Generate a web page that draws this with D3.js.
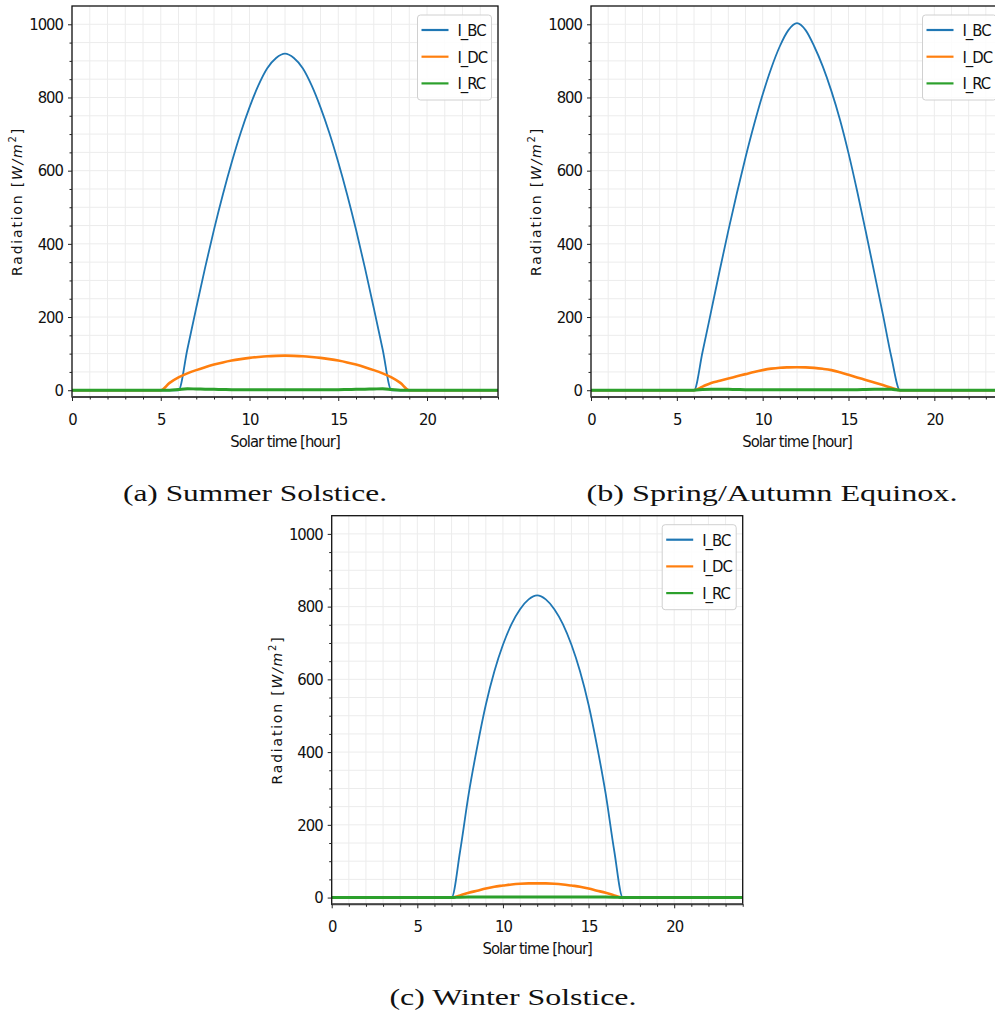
<!DOCTYPE html>
<html>
<head>
<meta charset="utf-8">
<script src="https://cdn.jsdelivr.net/npm/d3@7"></script>
<style>
  body { margin: 0; background: #fff; }
</style>
</head>
<body>
<svg id="fig" width="995" height="1015"></svg>
<script>
// sample hours shared by every series
const hours = [0, 2, 4, 4.5, 5, 5.5, 6, 6.5, 7, 7.5, 8, 8.5, 9, 9.5, 10, 10.5, 11, 11.5, 12,
  12.5, 13, 13.5, 14, 14.5, 15, 15.5, 16, 16.5, 17, 17.5, 18, 18.5, 19, 19.5, 20, 22, 24];

// (a) summer solstice
const summerBC = [0, 0, 0, 0, 0, 0, 0, 112, 225, 335, 439, 535, 623, 703, 773, 833, 880, 908, 920,
  908, 880, 833, 773, 703, 623, 535, 439, 335, 225, 112, 0, 0, 0, 0, 0, 0, 0];
const summerDC = [0, 0, 0, 0, 0, 20, 35, 46, 55, 63, 70, 76, 81, 85, 88.5, 91, 93, 94, 94.5,
  94, 93, 91, 88.5, 85, 81, 76, 70, 63, 55, 46, 35, 20, 0, 0, 0, 0, 0];
const summerRC = [0, 0, 0, 0, 0, 0, 2, 4, 3.5, 3, 2.5, 2, 1.5, 1.5, 1.5, 1.5, 1.5, 1.5, 1.5,
  1.5, 1.5, 1.5, 1.5, 1.5, 1.5, 2, 2.5, 3, 3.5, 4, 2, 0, 0, 0, 0, 0, 0];

// (b) spring/autumn equinox
const equinoxBC = [0, 0, 0, 0, 0, 0, 0, 105, 216, 328, 436, 539, 636, 726, 808, 880, 940, 984, 1003,
  984, 940, 885, 818, 740, 648, 545, 435, 322, 208, 90, 0, 0, 0, 0, 0, 0, 0];
const equinoxDC = [0, 0, 0, 0, 0, 0, 0, 10, 20, 26, 32, 38, 44, 50, 55, 59, 61.5, 62.5, 63,
  62.5, 61, 58.5, 55, 49, 42, 35, 28, 21, 14, 7, 0, 0, 0, 0, 0, 0, 0];
const equinoxRC = [0, 0, 0, 0, 0, 0, 0, 2, 3, 3, 2.5, 2, 1.5, 1.5, 1.5, 1.5, 1.5, 1.5, 1.5,
  1.5, 1.5, 1.5, 1.5, 1.5, 1.5, 1.5, 2, 2.5, 3, 2.5, 0, 0, 0, 0, 0, 0, 0];

// (c) winter solstice
const winterBC = [0, 0, 0, 0, 0, 0, 0, 0, 0, 128, 285, 415, 530, 622, 695, 752, 793, 820, 831,
  820, 793, 752, 695, 622, 530, 415, 285, 128, 0, 0, 0, 0, 0, 0, 0, 0, 0];
const winterDC = [0, 0, 0, 0, 0, 0, 0, 0, 0, 6, 13, 19, 25, 30, 33, 36, 38, 39, 39,
  39, 38, 36, 33, 30, 25, 19, 13, 6, 0, 0, 0, 0, 0, 0, 0, 0, 0];
const winterRC = [0, 0, 0, 0, 0, 0, 0, 0, 0, 1, 1.5, 1.5, 1.5, 1.5, 1.5, 1.5, 1.5, 1.5, 1.5,
  1.5, 1.5, 1.5, 1.5, 1.5, 1.5, 1.5, 1.5, 1, 0, 0, 0, 0, 0, 0, 0, 0, 0];

const seriesNames = ["I_BC", "I_DC", "I_RC"];
const seriesColors = ["#1f77b4", "#ff7f0e", "#2ca02c"];
const seriesWidths = [1.8, 2.6, 3];
const xTicks = [0, 5, 10, 15, 20];
const yTicks = [0, 200, 400, 600, 800, 1000];
const captions = ["(a) Summer Solstice.", "(b) Spring/Autumn Equinox.", "(c) Winter Solstice."];

const narrowFont = "'Liberation Sans Narrow', 'DejaVu Sans Condensed', sans-serif";

const panels = [
  { left: 72, top: 6, width: 426, height: 391, series: [summerBC, summerDC, summerRC],
    caption: captions[0], capX: 255, capY: 501, capW: 264 },
  { left: 591, top: 6, width: 412, height: 391, series: [equinoxBC, equinoxDC, equinoxRC],
    caption: captions[1], capX: 772, capY: 501, capW: 371 },
  { left: 331.7, top: 515.7, width: 411, height: 388.6, series: [winterBC, winterDC, winterRC],
    caption: captions[2], capX: 513, capY: 1005, capW: 247 }
];

const svg = d3.select("#fig");

panels.forEach(function (p) {
  const g = svg.append("g").attr("transform", "translate(" + p.left + "," + p.top + ")");

  const x = d3.scaleLinear().domain([0, 24]).range([0, p.width]);
  const y = d3.scaleLinear().domain([-18.5, 1050]).range([p.height, 0]);

  const xMinor = d3.range(0, 25, 1);
  const yMinor = d3.range(0, 1050, 50);

  // grid, major and minor
  g.append("g").selectAll("line").data(xMinor).join("line")
    .attr("x1", d => x(d)).attr("x2", d => x(d))
    .attr("y1", 0).attr("y2", p.height)
    .attr("stroke", "#ececec").attr("stroke-width", 1);
  g.append("g").selectAll("line").data(yMinor).join("line")
    .attr("x1", 0).attr("x2", p.width)
    .attr("y1", d => y(d)).attr("y2", d => y(d))
    .attr("stroke", "#ececec").attr("stroke-width", 1);

  // series
  const line = d3.line()
    .x((d, i) => x(hours[i]))
    .y(d => y(d))
    .curve(d3.curveMonotoneX);

  p.series.forEach(function (vals, k) {
    g.append("path")
      .datum(vals)
      .attr("d", line)
      .attr("fill", "none")
      .attr("stroke", seriesColors[k])
      .attr("stroke-width", seriesWidths[k])
      .attr("stroke-linejoin", "round");
  });

  // spines
  g.append("rect")
    .attr("width", p.width).attr("height", p.height)
    .attr("fill", "none").attr("stroke", "#111").attr("stroke-width", 1.3);
  g.append("line")
    .attr("x1", 0).attr("x2", p.width).attr("y1", p.height).attr("y2", p.height)
    .attr("stroke", "#444").attr("stroke-width", 2);

  // axes
  g.append("g")
    .attr("transform", "translate(0," + p.height + ")")
    .call(d3.axisBottom(x).tickValues(xTicks).tickSize(4).tickPadding(12).tickFormat(d3.format("d")));
  g.append("g").attr("transform", "translate(0," + p.height + ")")
    .call(d3.axisBottom(x).tickValues(xMinor.filter(d => d % 5 !== 0)).tickSize(2.5).tickFormat(""));
  g.append("g")
    .call(d3.axisLeft(y).tickValues(yTicks).tickSize(4).tickPadding(5).tickFormat(d3.format("d")));
  g.append("g")
    .call(d3.axisLeft(y).tickValues(yMinor.filter(d => d % 200 !== 0)).tickSize(2.5).tickFormat(""));

  g.selectAll(".domain").remove();
  g.selectAll(".tick line").attr("stroke", "#222");
  g.selectAll(".tick text").attr("fill", "#111").attr("font-size", 16.5)
    .attr("font-family", narrowFont).attr("letter-spacing", -1);

  // axis labels
  g.append("text")
    .attr("x", p.width / 2).attr("y", p.height + 50)
    .attr("text-anchor", "middle").attr("font-size", 16.5).attr("fill", "#111")
    .attr("font-family", narrowFont).attr("letter-spacing", -1)
    .text("Solar time [hour]");

  const yl = g.append("text")
    .attr("transform", "translate(-50," + (p.height / 2) + ") rotate(-90)")
    .attr("text-anchor", "middle").attr("font-size", 14).attr("fill", "#111")
    .attr("font-family", "'DejaVu Sans', sans-serif")
    .attr("letter-spacing", 1.8);
  yl.append("tspan").text("Radiation [");
  yl.append("tspan").attr("font-style", "italic").text("W/m");
  yl.append("tspan").attr("font-size", 10).attr("dy", -6).text("2");
  yl.append("tspan").attr("dy", 6).text("]");

  // legend
  const lg = g.append("g")
    .attr("transform", "translate(" + (p.width - 80.5) + ",9)");
  lg.append("rect")
    .attr("width", 74).attr("height", 85).attr("rx", 3)
    .attr("fill", "#fff").attr("fill-opacity", 0.85)
    .attr("stroke", "#d0d0d0").attr("stroke-width", 1);
  seriesNames.forEach(function (name, k) {
    const yy = 15 + k * 26.7;
    lg.append("line")
      .attr("x1", 4).attr("x2", 31).attr("y1", yy).attr("y2", yy)
      .attr("stroke", seriesColors[k]).attr("stroke-width", 2.2);
    lg.append("text")
      .attr("x", 40).attr("y", yy + 6)
      .attr("font-size", 16.5).attr("fill", "#111")
      .attr("font-family", narrowFont).attr("letter-spacing", -1)
      .text(name);
  });

  // caption
  svg.append("text")
    .attr("x", p.capX).attr("y", p.capY)
    .attr("text-anchor", "middle")
    .attr("font-family", "'Liberation Serif', serif")
    .attr("font-size", 24).attr("fill", "#111")
    .attr("textLength", p.capW).attr("lengthAdjust", "spacingAndGlyphs")
    .text(p.caption);
});
</script>
</body>
</html>
